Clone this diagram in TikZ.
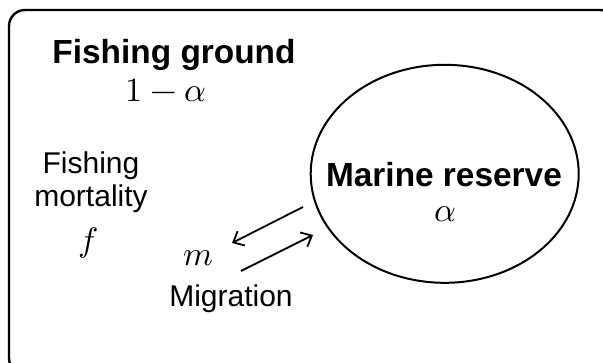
\documentclass[tikz,border=0pt]{standalone}
\usepackage{unicode-math}
\setmainfont{Liberation Sans}
\setmathfont{Latin Modern Math}
\usetikzlibrary{arrows.meta,shapes.geometric}
\tikzset{
  bigbold/.style={font=\fontsize{33.4}{38}\selectfont\bfseries, inner sep=0pt},
  plain/.style={font=\fontsize{30}{33}\selectfont, inner sep=0pt, align=center},
  mathlbl/.style={font=\fontsize{34}{38}\selectfont, inner sep=0pt},
  flow/.style={line width=1.8pt, -{Straight Barb[length=9pt,width=16pt,line width=1.8pt]}}
}
\begin{document}
\begin{tikzpicture}[x=1pt,y=1pt]
\useasboundingbox (0,0) rectangle (603,-362);
\clip (0,0) rectangle (603,-362);
\draw[line width=2.4pt, rounded corners=16pt] (9,-10) rectangle (616,-374);
\node[ellipse, draw, line width=2pt, minimum width=268pt, minimum height=218pt, inner sep=0pt] (res) at (444.7,-173.8) {};
\node[bigbold] (mrtxt) at (444,-175) {Marine reserve};
\node[mathlbl] (alpha) at (445,-214) {$\alpha$};
\node[bigbold] (fg) at (174,-55) {Fishing ground};
\node[mathlbl] (oma) at (166,-90) {$1-\alpha$};
\node[plain] (fm) at (91,-182) {Fishing\\mortality};
\node[mathlbl] (f) at (88,-243) {$f$};
\node[mathlbl] (m) at (198,-258) {$m$};
\node[plain] (mig) at (231,-299) {Migration};
\coordinate (a1s) at (303,-207);
\coordinate (a1e) at (232,-243);
\coordinate (a2s) at (241,-271);
\coordinate (a2e) at (313,-235);
\draw[flow] (a1s) -- (a1e);
\draw[flow] (a2s) -- (a2e);
\end{tikzpicture}
\end{document}
